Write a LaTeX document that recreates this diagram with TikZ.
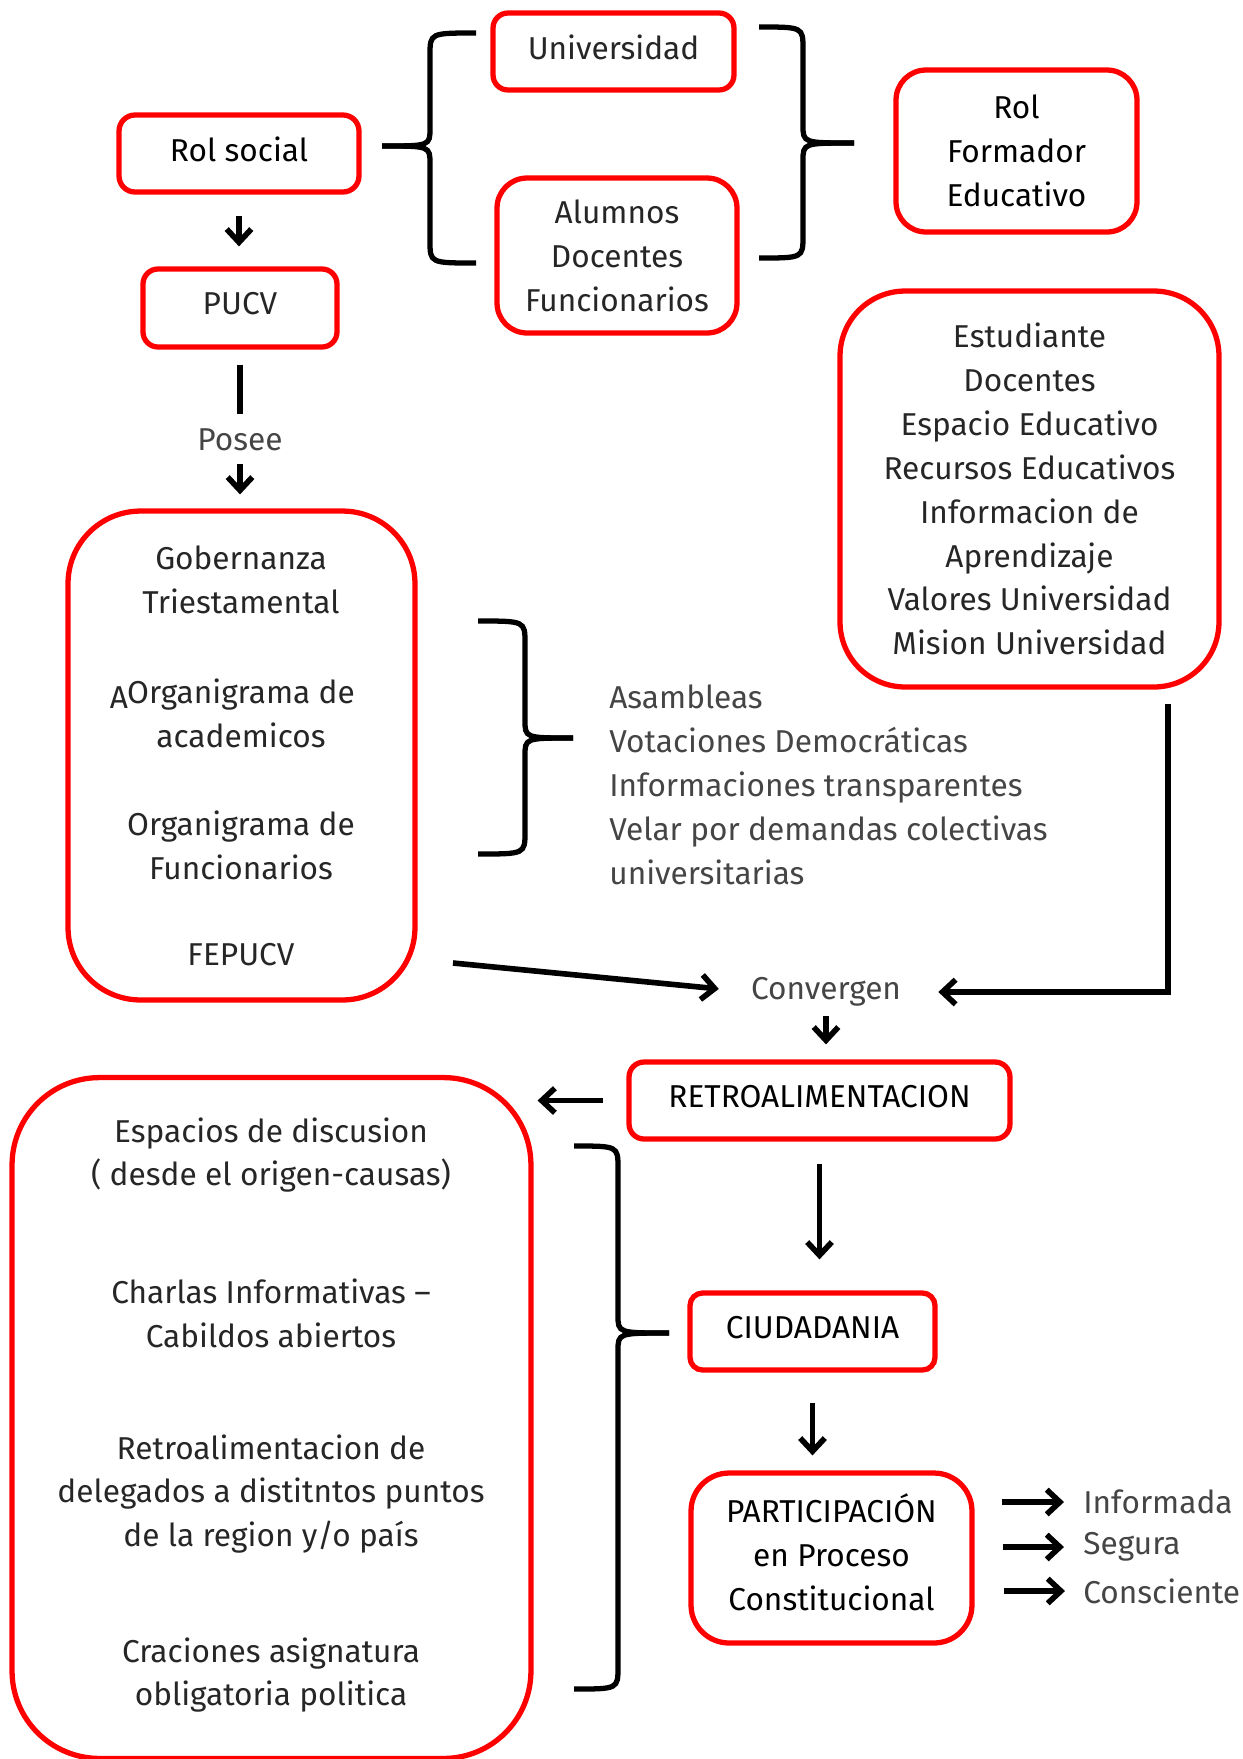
\documentclass[tikz,border=0pt]{standalone}
\usepackage{fontspec}
\setmainfont{Fira Sans}
\usetikzlibrary{arrows.meta}
\definecolor{boxred}{HTML}{FF0000}
\definecolor{txtdark}{HTML}{262626}
\definecolor{txtgrey}{HTML}{454545}
\newcommand\bracerightshape[6]{%
  \draw[bracestyle] (#1,#4) .. controls (#2,#4) .. (#2,#4+22) -- (#2,#5-18) .. controls (#2,#5) .. (#3,#5);
  \draw[bracestyle] (#3,#5) .. controls (#2,#5) .. (#2,#5+18) -- (#2,#6-22) .. controls (#2,#6) .. (#1,#6);}
\begin{document}
\begin{tikzpicture}[x=0.02cm,y=-0.02cm,
  font=\fontsize{18}{25}\selectfont,
  redbox/.style={draw=boxred, line width=3pt, rectangle, align=center, inner sep=0pt, text=txtdark},
  strong/.style={text=black},
  up/.style={text depth=5pt},
  lbl/.style={align=center, inner sep=0pt, text=txtdark},
  glbl/.style={align=left, inner sep=0pt, text=txtgrey},
  arr/.style={line width=3.2pt, -{Straight Barb[length=7.5pt,width=14pt]}},
  ln/.style={line width=3.2pt},
  bracestyle/.style={line width=3pt}]
\useasboundingbox (0,0) rectangle (1243,1759);

% boxes
\node[redbox, strong, up, minimum width=4.8cm, minimum height=1.54cm, rounded corners=0.32cm] (rolsocial) at (239,153.5) {Rol social};
\node[redbox, up, minimum width=3.88cm, minimum height=1.56cm, rounded corners=0.3cm] (pucv) at (240,308) {PUCV};
\node[redbox, up, minimum width=4.82cm, minimum height=1.54cm, rounded corners=0.3cm] (univ) at (613.5,51.5) {Universidad};
\node[redbox, minimum width=4.8cm, minimum height=3.1cm, rounded corners=0.6cm] (alum) at (617,255.5) {Alumnos\\Docentes\\Funcionarios};
\node[redbox, strong, minimum width=4.82cm, minimum height=3.24cm, rounded corners=0.6cm] (rolform) at (1016.5,151) {Rol\\Formador\\Educativo};
\node[redbox, minimum width=7.58cm, minimum height=7.92cm, rounded corners=1.3cm] (estud) at (1029.5,489) {Estudiante\\Docentes\\Espacio Educativo\\Recursos Educativos\\Informacion de\\Aprendizaje\\Valores Universidad\\Mision Universidad};
\node[redbox, minimum width=6.94cm, minimum height=9.78cm, rounded corners=1.45cm] (gob) at (241.5,755.5) {};
\node[redbox, strong, up, minimum width=7.62cm, minimum height=1.54cm, rounded corners=0.3cm] (retro) at (819.5,1100.5) {RETROALIMENTACION};
\node[redbox, minimum width=10.38cm, minimum height=13.62cm, rounded corners=1.75cm] (big) at (271.5,1418) {};
\node[redbox, strong, up, minimum width=4.9cm, minimum height=1.54cm, rounded corners=0.25cm] (ciud) at (812.5,1331.5) {CIUDADANIA};
\node[redbox, minimum width=5.62cm, minimum height=3.4cm, rounded corners=0.76cm] (part) at (831.5,1558) {};
\node[lbl, text=black] (parttext) at (831.5,1552) {PARTICIPACIÓN\\en Proceso\\Constitucional};

% texts inside gob
\node[lbl] (g1) at (241,580) {Gobernanza\\Triestamental};
\node[lbl] (g2) at (241,713) {Organigrama de\\academicos};
\node[lbl] (g2a) at (119,698) {A};
\node[lbl] (g3) at (241,845) {Organigrama de\\Funcionarios};
\node[lbl] (g4) at (241,955) {FEPUCV};

% texts inside big
\node[lbl] (b1) at (271,1155) {Espacios de discusion\\( desde el origen-causas)};
\node[lbl] (b2) at (271,1313) {Charlas Informativas –\\Cabildos abiertos};
\node[lbl] (b3) at (271,1494) {Retroalimentacion de\\delegados a distitntos puntos\\de la region y/o país};
\node[lbl] (b4) at (271,1675) {Craciones asignatura\\obligatoria politica};

% grey labels
\node[glbl, align=center] (posee) at (240,440) {Posee};
\node[glbl, anchor=west] (list) at (609,785) {Asambleas\\Votaciones Democráticas\\Informaciones transparentes\\Velar por demandas colectivas\\universitarias};
\node[glbl] (conv) at (826,992) {Convergen};
\node[glbl, anchor=west] (inf) at (1083,1502) {Informada};
\node[glbl, anchor=west] (seg) at (1083,1547) {Segura};
\node[glbl, anchor=west] (cons) at (1083,1591) {Consciente};

% braces
\bracerightshape{476}{430}{382}{33}{146}{263}
\bracerightshape{759}{803}{854}{27}{143}{258}
\bracerightshape{478}{525}{573}{621}{738}{854}
\bracerightshape{574}{618}{669}{1146}{1333}{1689}

% connectors
\coordinate (gobout) at (453,963);
\coordinate (estudout) at (1168,704);
\draw[arr, shorten <=0.42cm, shorten >=0.4cm] (rolsocial.south) -- (rolsocial.south |- pucv.north);
\draw[ln, shorten <=0.3cm, shorten >=0.3cm] (pucv.south) -- (pucv.south |- posee.north);
\draw[arr, shorten <=0.26cm, shorten >=0.28cm] (posee.south) -- (posee.south |- gob.north);
\draw[arr, shorten >=0.64cm] (gobout) -- (conv.west);
\draw[arr, shorten >=0.74cm] (estudout) |- (conv.east);
\draw[arr, shorten <=0.18cm, shorten >=0.3cm] (conv.south) -- (conv.south |- retro.north);
\draw[arr, shorten <=0.46cm, shorten >=0.08cm] (retro.west) -- (retro.west -| big.east);
\draw[arr, shorten <=0.44cm, shorten >=0.62cm] (retro.south) -- (retro.south |- ciud.north);
\draw[arr, shorten <=0.6cm, shorten >=0.3cm] (ciud.south) -- (ciud.south |- part.north);
\draw[arr, shorten <=0.54cm, shorten >=0.38cm] (inf.west -| part.east) -- (inf.west);
\draw[arr, shorten <=0.56cm, shorten >=0.38cm] (seg.west -| part.east) -- (seg.west);
\draw[arr, shorten <=0.58cm, shorten >=0.36cm] (cons.west -| part.east) -- (cons.west);
\end{tikzpicture}
\end{document}
